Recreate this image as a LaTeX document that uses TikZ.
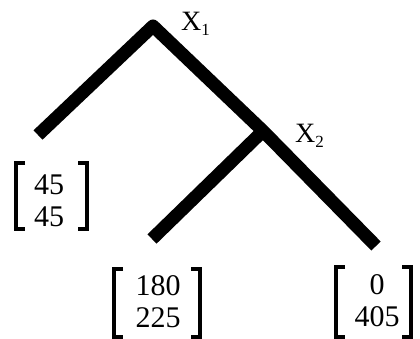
\documentclass[tikz,border=0pt]{standalone}
\usepackage{fontspec}
\setmainfont{Liberation Serif}
\begin{document}
\begin{tikzpicture}[x=1pt,y=-1pt,
  branch/.style={line width=13pt,line cap=butt,line join=round},
  pay/.style={align=center,inner sep=0pt,font=\fontsize{30}{32}\selectfont},
  lbl/.style={inner sep=0pt,anchor=west,font=\fontsize{28}{28}\selectfont},
  brk/.style={line width=3.6pt,line cap=butt,line join=miter}]
\useasboundingbox (0,0) rectangle (420,338);
\coordinate (r) at (153,26);
\coordinate (l) at (38,135);
\coordinate (x2) at (263,131);
\coordinate (m) at (152,239);
\coordinate (e) at (376,246);
\draw[branch] (l) -- (r) -- (x2) -- (e);
\draw[branch] (x2) -- (m);
\node[lbl] (X1) at (181,24) {X\raisebox{-0.35ex}{\fontsize{17}{17}\selectfont 1}};
\node[lbl] (X2) at (295,136) {X\raisebox{-0.35ex}{\fontsize{17}{17}\selectfont 2}};
\node[pay] (p1) at (49,201) {45\\45};
\node[pay] (p2) at (158,302) {180\\225};
\node[pay] (p3) at (377,301) {0\\405};
\newcommand{\brackets}[5]{% name, left x, right x, top y, bottom y
  \draw[brk] (#2+9,#4) -- (#2,#4) -- (#2,#5) -- (#2+9,#5);
  \draw[brk] (#3-9,#4) -- (#3,#4) -- (#3,#5) -- (#3-9,#5);}
\brackets{p1}{16}{87}{163}{229}
\brackets{p2}{114}{200}{269}{337}
\brackets{p3}{336}{411}{267}{337}
\end{tikzpicture}
\end{document}
